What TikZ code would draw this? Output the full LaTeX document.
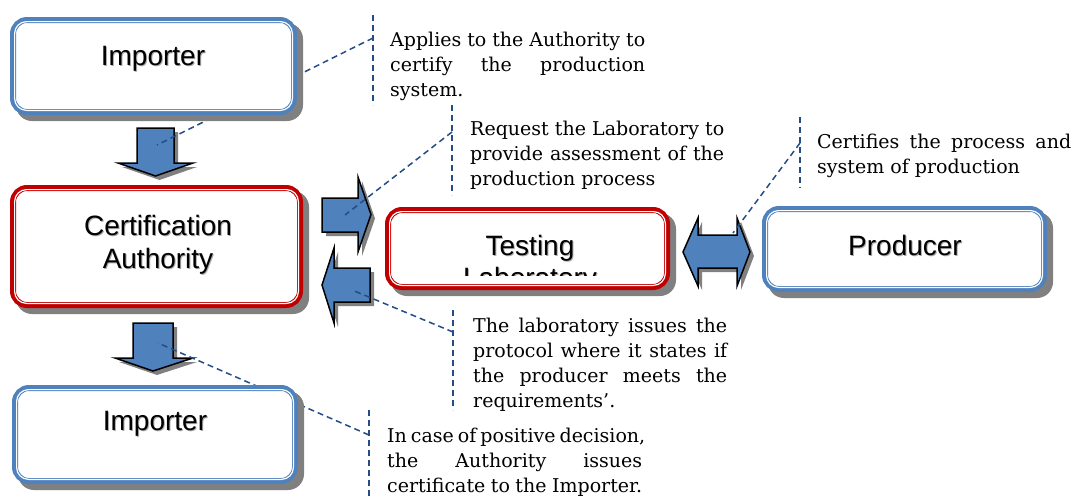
\documentclass[tikz,border=0pt]{standalone}
\usepackage{fontspec}
\setmainfont{DejaVu Serif}
\newfontfamily\labelfont{Liberation Sans}

\definecolor{panelblue}{RGB}{79,129,189}
\definecolor{panelred}{RGB}{192,0,0}
\definecolor{arrowfill}{RGB}{79,129,189}
\definecolor{leadercol}{RGB}{37,76,135}
\definecolor{shadowcol}{RGB}{128,128,128}
\definecolor{txtshadow}{RGB}{170,170,170}

% label text with a soft offset shadow
\newcommand\shtext[1]{\makebox[0pt][l]{\kern1pt\raisebox{-1pt}{\color{txtshadow}#1}}#1}
% fully justified line inside a callout
\newcommand\jl[1]{\makebox[\linewidth][s]{#1}}

% rounded panel with thick-thin border and drop shadow
% #1 name, (#2,#3) top-left, (#4,#5) bottom-right, #6 colour
\newcommand\drawpanel[6]{%
  \fill[shadowcol, rounded corners=16pt] (#2+6,#3+6) rectangle (#4+6,#5+6);
  \draw[fill=white, draw=#6, line width=6pt, rounded corners=14pt] (#2+3,#3+3) rectangle (#4-3,#5-3);
  \draw[white, line width=1.2pt, rounded corners=12pt] (#2+4.6,#3+4.6) rectangle (#4-4.6,#5-4.6);
  \coordinate (#1) at ({(#2+#4)/2},{(#3+#5)/2});
}

% block arrow with drop shadow, #1 is the outline without "-- cycle"
\newcommand\blockarrow[1]{%
  \fill[shadowcol, shift={(4,4)}] #1 -- cycle;
  \draw[fill=arrowfill, draw=black, line width=1.5pt, line join=miter] #1 -- cycle;
}

\tikzset{
  leader/.style={draw=leadercol, line width=1.5pt, dash pattern=on 6pt off 4pt},
  calltext/.style={inner sep=0pt, anchor=base west, font=\fontsize{19}{25}\selectfont},
  boxlabel/.style={inner sep=0pt, anchor=base, font=\labelfont\fontsize{28}{33}\selectfont},
}

\begin{document}
\begin{tikzpicture}[x=1pt, y=-1pt]
\useasboundingbox (0,0) rectangle (1076,498);

% ---- block arrows ----
\blockarrow{(137,128) -- (174,128) -- (174,163) -- (193,163) -- (155.5,176) -- (118,163) -- (137,163)}
\blockarrow{(133,323) -- (173,323) -- (173,358) -- (193,358) -- (153,371) -- (115,358) -- (133,358)}
\blockarrow{(322,198) -- (358,198) -- (358,177) -- (371,214.5) -- (358,252) -- (358,232) -- (322,232)}
\blockarrow{(370,268) -- (334,268) -- (334,248) -- (322,285) -- (334,323) -- (334,302) -- (370,302)}
\blockarrow{(683,252) -- (698,218) -- (698,235) -- (737,235) -- (737,218) -- (750,252) -- (737,286) -- (737,268) -- (698,268) -- (698,286)}

% ---- callout anchors ----
\coordinate (v1t) at (373,15);  \coordinate (v1b) at (373,105); \coordinate (v1m) at (373,38);
\coordinate (v2t) at (452,105); \coordinate (v2b) at (452,195); \coordinate (v2m) at (452,132);
\coordinate (v3t) at (800,117); \coordinate (v3b) at (800,188); \coordinate (v3m) at (800,143);
\coordinate (v4t) at (453,310); \coordinate (v4b) at (453,410); \coordinate (v4m) at (453,332);
\coordinate (v5t) at (369,410); \coordinate (v5b) at (369,498); \coordinate (v5m) at (369,435);
\coordinate (a1c) at (157,145);
\coordinate (a3c) at (345,215);
\coordinate (a5c) at (733,233);
\coordinate (a4c) at (352,290);
\coordinate (a2c) at (158,343);

\draw[leader] (v1t) -- (v1b);
\draw[leader] (v2t) -- (v2b);
\draw[leader] (v3t) -- (v3b);
\draw[leader] (v4t) -- (v4b);
\draw[leader] (v5t) -- (v5b);
\draw[leader] (v1m) -- (a1c);
\draw[leader] (v2m) -- (a3c);
\draw[leader] (v3m) -- (a5c);
\draw[leader] (v4m) -- (a4c);
\draw[leader] (v5m) -- (a2c);

% ---- panels ----
\drawpanel{imp1}{10}{17}{297}{115}{panelblue}
\drawpanel{ca}{10}{185}{303}{308}{panelred}
\drawpanel{lab}{385}{207}{670}{290}{panelred}
\drawpanel{prod}{762}{206}{1047}{292}{panelblue}
\drawpanel{imp2}{12}{385}{298}{484}{panelblue}

\node[boxlabel] (imp1text) at (153,65) {\shtext{Importer}};
\node[boxlabel] (catext) at (158,235) {\parbox[t]{280pt}{\centering\shtext{Certification}\\\shtext{Authority}}};
\begin{scope}
  \clip (390,213) rectangle (665,275);
  \node[boxlabel, font=\labelfont\fontsize{28}{32}\selectfont] (labtext) at (530,255)
    {\parbox[t]{270pt}{\centering\shtext{Testing}\\\shtext{Laboratory}}};
\end{scope}
\node[boxlabel] (prodtext) at (905,255) {\shtext{Producer}};
\node[boxlabel] (imp2text) at (155,430) {\shtext{Importer}};

% ---- callout texts ----
\node[calltext] (t1) at (390,46) {\parbox[t]{255pt}{%
  \jl{Applies to the Authority to}\\\jl{certify the production}\\system.}};
\node[calltext] (t2) at (470,135) {\parbox[t]{254pt}{%
  \jl{Request the Laboratory to}\\\jl{provide assessment of the}\\production process}};
\node[calltext] (t3) at (817,148) {\parbox[t]{254pt}{%
  \jl{Certifies the process and}\\system of production}};
\node[calltext] (t4) at (473,332) {\parbox[t]{254pt}{%
  \jl{The laboratory issues the}\\\jl{protocol where it states if}\\\jl{the producer meets the}\\requirements’.}};
\node[calltext] (t5) at (387,442) {\parbox[t]{255pt}{%
  \jl{In case of positive decision,}\\\jl{the Authority issues}\\certificate to the Importer.}};
\end{tikzpicture}
\end{document}
